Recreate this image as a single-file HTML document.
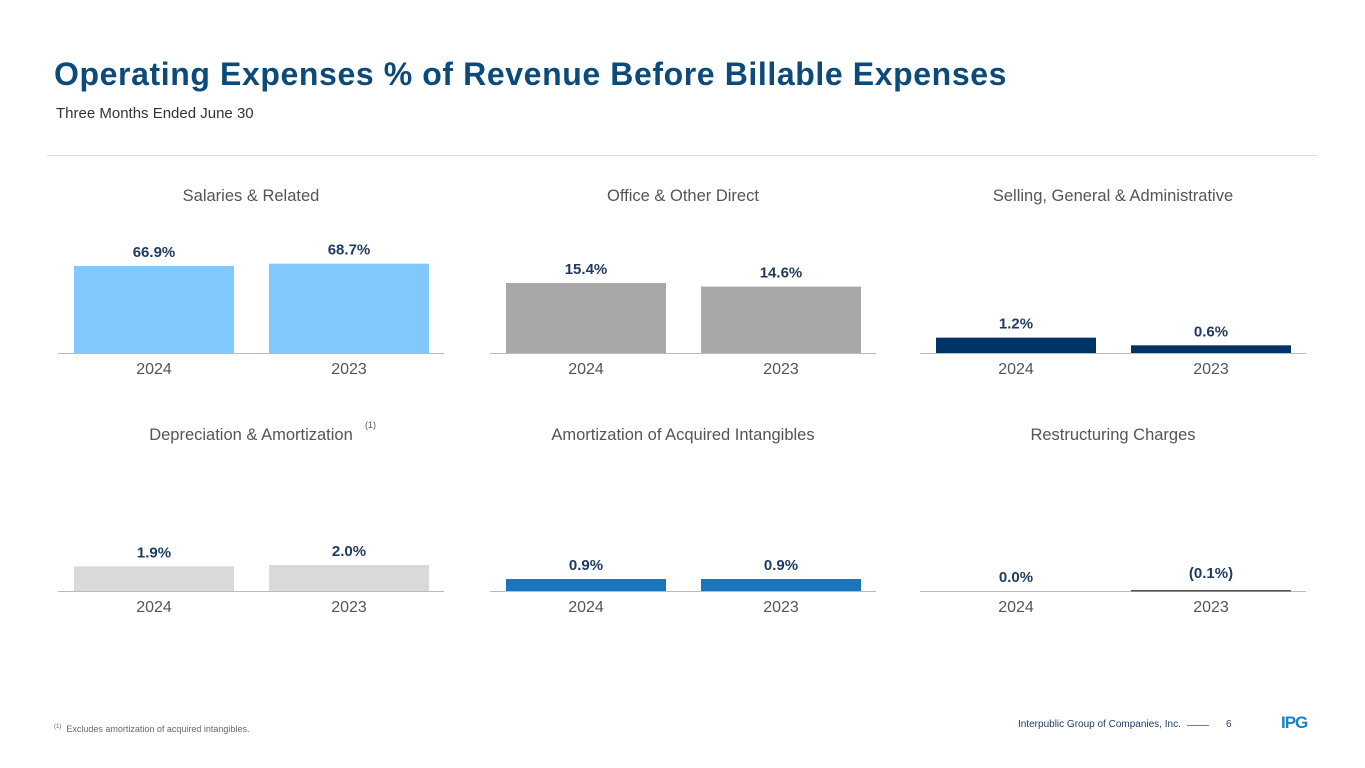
<!DOCTYPE html>
<html><head><meta charset="utf-8"><style>
body{margin:0;width:1365px;height:768px;background:#fff;font-family:"Liberation Sans",sans-serif;position:relative;overflow:hidden}
.abs{position:absolute}
</style></head><body>
<div class="abs" style="left:54px;top:56px;font-size:32px;font-weight:bold;color:#0d4a7c;letter-spacing:0.6px">Operating Expenses % of Revenue Before Billable Expenses</div>
<div class="abs" style="left:56px;top:105px;font-size:15px;color:#333">Three Months Ended June 30</div>
<div class="abs" style="left:47px;top:155px;width:1271px;height:1px;background:#ddd"></div>
<svg class="abs" style="left:0;top:0" width="1365" height="768" id="charts"></svg>
<div class="abs" style="left:54px;top:724px;font-size:9px;color:#666"><sup style="font-size:6px">(1)</sup>&nbsp; Excludes amortization of acquired intangibles.</div>
<div class="abs" style="left:1018px;top:719px;font-size:10px;color:#1f3a5f">Interpublic Group of Companies, Inc.</div>
<div class="abs" style="left:1187px;top:725px;width:22px;height:1px;background:#4a8ac8"></div>
<div class="abs" style="left:1226px;top:719px;font-size:10px;color:#1f3a5f">6</div>
<div class="abs" style="left:1281px;top:713px;font-size:17px;font-weight:bold;color:#1a80c8;letter-spacing:-1px">IPG</div>
<script>
const titles=["Salaries & Related","Office & Other Direct","Selling, General & Administrative","Depreciation & Amortization","Amortization of Acquired Intangibles","Restructuring Charges"];
const categories=["2024","2023"];
const values=[[66.9,68.7],[15.4,14.6],[1.2,0.6],[1.9,2.0],[0.9,0.9],[0.0,-0.1]];
const labels=[["66.9%","68.7%"],["15.4%","14.6%"],["1.2%","0.6%"],["1.9%","2.0%"],["0.9%","0.9%"],["0.0%","(0.1%)"]];
const colors=["#80c8ff","#a8a8a8","#003366","#d9d9d9","#1a75bc","#555555"];
const pxPerUnit=[1.3,4.55,12.8,13,13.3,15];
const svg=document.getElementById('charts');
const NS='http://www.w3.org/2000/svg';
function mk(t,a){const e=document.createElementNS(NS,t);for(const k in a)e.setAttribute(k,a[k]);svg.appendChild(e);return e;}
const colX=[58,490,920], rowBase=[353,591], rowTitle=[195,434];
for(let p=0;p<6;p++){
  const x0=colX[p%3], base=rowBase[Math.floor(p/3)], ty=rowTitle[Math.floor(p/3)];
  const t=mk('text',{x:x0+193,y:ty+6,'text-anchor':'middle','font-size':16.5,fill:'#555'});t.textContent=titles[p];
  
  
  if(p===3){const s=mk('text',{x:x0+307,y:ty-6,'font-size':9,fill:'#555'});s.textContent='(1)';
    
    }
  const ax=mk('line',{x1:x0,x2:x0+386,y1:base+0.5,y2:base+0.5,stroke:'#bbb','stroke-width':1});
  
  
  for(let i=0;i<2;i++){
    const bx=x0+16+i*195, v=values[p][i];
    let h=Math.abs(v)*pxPerUnit[p]; if(v<0) h=Math.max(h,1.5);
    let top=v<0?base-1:base-h;
    if(h>0){const r=mk('rect',{x:bx,y:top,width:160,height:h,fill:colors[p]});
      
      }
    const ly=(v<0?base-4:top)-9;
    const l=mk('text',{x:bx+80,y:ly,'text-anchor':'middle','font-size':15,'font-weight':'bold',fill:'#1f3a5f'});l.textContent=labels[p][i];
    
    
    const c=mk('text',{x:bx+80,y:base+21,'text-anchor':'middle','font-size':16,fill:'#555'});c.textContent=categories[i];
    
    
  }
}
</script>
</body></html>
